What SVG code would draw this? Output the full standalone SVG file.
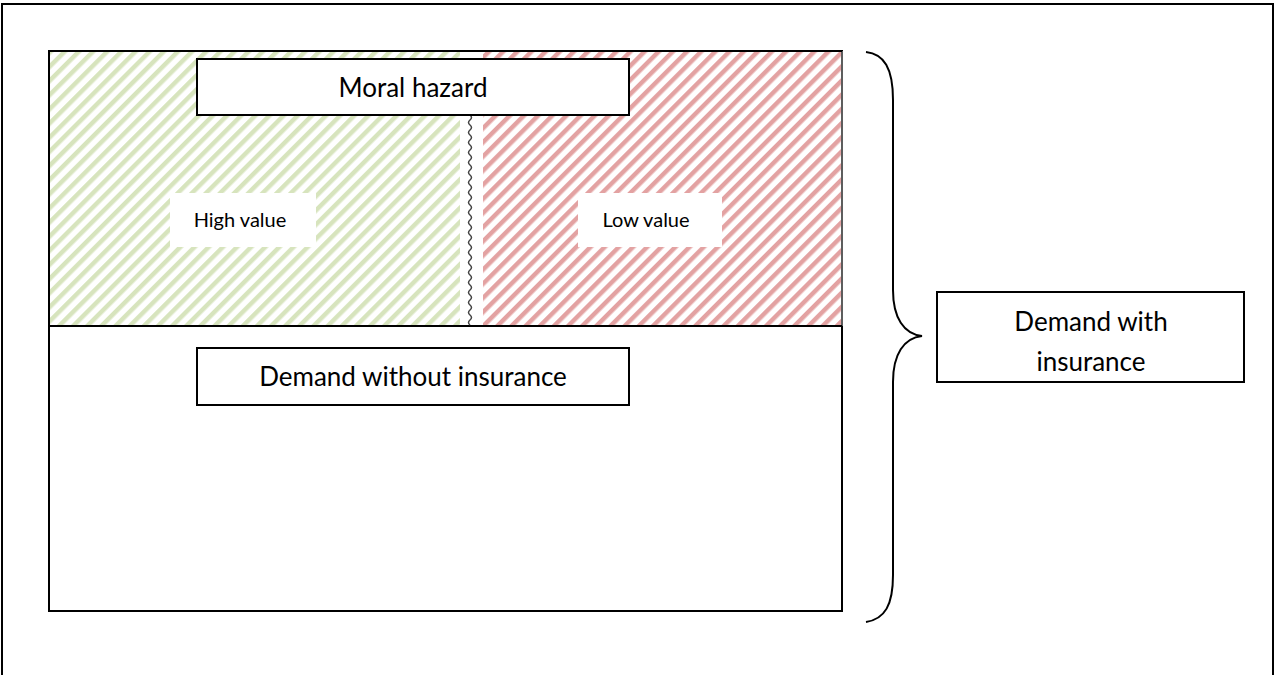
<svg xmlns="http://www.w3.org/2000/svg" width="1275" height="675" viewBox="0 0 1275 675">
<style>
.box{fill:#fff;stroke:#000;stroke-width:2}
.lbl{fill:#fff;stroke:none}
.t{font-family:Lato,"Open Sans",sans-serif;fill:#000;text-anchor:middle}
</style>
<defs>
<pattern id="green" width="10" height="10" patternUnits="userSpaceOnUse" patternTransform="rotate(45)">
<rect width="10" height="10" fill="#fff"/>
<rect x="0" y="0" width="4.5" height="10" fill="#d7e4bd"/>
</pattern>
<pattern id="red" width="10" height="10" patternUnits="userSpaceOnUse" patternTransform="rotate(45)">
<rect width="10" height="10" fill="#fff"/>
<rect x="0" y="0" width="4.5" height="10" fill="#e3a2a2"/>
</pattern>
</defs>
<rect x="0" y="0" width="1275" height="675" fill="#fff"/>
<g id="frame"><rect x="2" y="4" width="1271" height="672" fill="none" stroke="#000" stroke-width="2"/></g>
<g id="total">
<rect x="49" y="51" width="793" height="560" class="box"/>
</g>
<g id="moral-hazard-area">
<rect x="50" y="52" width="410" height="274" fill="url(#green)"/>
<rect x="483" y="52" width="358" height="274" fill="url(#red)"/>
<line x1="842" y1="51" x2="842" y2="326" stroke="#bbb" stroke-width="1"/>
<line x1="49" y1="326" x2="842" y2="326" stroke="#000" stroke-width="2"/>
<line x1="49" y1="51" x2="842" y2="51" stroke="#000" stroke-width="2"/>
</g>
<g id="connectors">
<path d="M470,115 q3,2.5 0,5 t0,5 t0,5 t0,5 t0,5 t0,5 t0,5 t0,5 t0,5 t0,5 t0,5 t0,5 t0,5 t0,5 t0,5 t0,5 t0,5 t0,5 t0,5 t0,5 t0,5 t0,5 t0,5 t0,5 t0,5 t0,5 t0,5 t0,5 t0,5 t0,5 t0,5 t0,5 t0,5 t0,5 t0,5 t0,5 t0,5 t0,5 t0,5 t0,5 t0,5 t0,5" fill="none" stroke="#444" stroke-width="1.5"/>
<path d="M866,52 C884,54 893,68 893,100 L893,290 C893,318 904,334 922,336 C904,338 893,354 893,382 L893,575 C893,605 885,619 866,622" fill="none" stroke="#000" stroke-width="2"/>
</g>
<g id="moral-hazard">
<rect x="197" y="59" width="432" height="56" class="box"/>
<text x="413" y="97" class="t" font-size="26">Moral hazard</text>
</g>
<g id="high-value">
<rect x="170" y="193" width="146" height="54" class="lbl"/>
<text x="240" y="227" class="t" font-size="20">High value</text>
</g>
<g id="low-value">
<rect x="578" y="193" width="144" height="54" class="lbl"/>
<text x="646" y="227" class="t" font-size="20">Low value</text>
</g>
<g id="demand-without">
<rect x="197" y="348" width="432" height="57" class="box"/>
<text x="413" y="386" class="t" font-size="26">Demand without insurance</text>
</g>
<g id="demand-with">
<rect x="937" y="292" width="307" height="90" class="box"/>
<text x="1091" y="331" class="t" font-size="26">Demand with</text>
<text x="1091" y="371" class="t" font-size="26">insurance</text>
</g>
</svg>
